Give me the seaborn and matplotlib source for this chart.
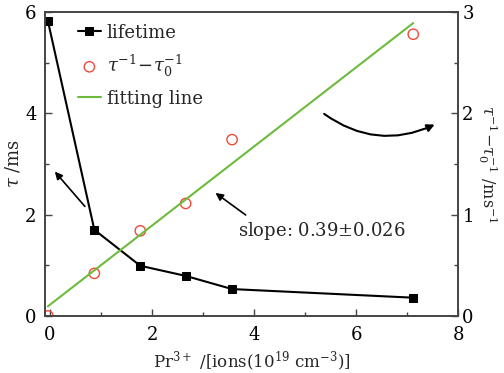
import numpy as np
import pandas as pd
import matplotlib
matplotlib.use('Agg')
import matplotlib.pyplot as plt
from matplotlib.ticker import MultipleLocator
import seaborn as sns

# Data
conc = [-0.04, 0.87, 1.77, 2.66, 3.57, 7.12]          # Pr3+ (1e19 ions/cm3)
lifetime = [5.82, 1.70, 0.99, 0.79, 0.53, 0.36]        # tau (ms)
inv_diff = [0.0, 0.42, 0.84, 1.11, 1.74, 2.78]         # tau^-1 - tau0^-1 (ms^-1)

sns.set_style('ticks')
plt.rcParams['font.family'] = ['DejaVu Serif']
plt.rcParams['mathtext.fontset'] = 'dejavuserif'

df = pd.DataFrame({'conc': conc, 'lifetime': lifetime, 'inv': inv_diff})

# linear fit of the rate data
slope, icpt = np.polyfit(df.conc, df.inv, 1)
fit = pd.DataFrame({'conc': [min(conc), max(conc)]})
fit['inv'] = icpt + slope * fit.conc

fig = plt.figure(figsize=(5.04, 3.73), dpi=100)
ax = fig.add_axes([0.089, 0.153, 0.82, 0.815])
ax2 = ax.twinx()

red = '#ee4a3a'
green = '#6dbb3c'

sns.lineplot(data=df, x='conc', y='lifetime', ax=ax, color='k', marker='s',
             markersize=5.5, markeredgecolor='k', lw=1.5, label='lifetime', legend=False)
sns.scatterplot(data=df, x='conc', y='inv', ax=ax2, s=55, facecolor='none',
                edgecolor=red, linewidth=1.0, label=r'$\tau^{-1}\!-\!\tau_0^{-1}$', legend=False)
sns.lineplot(data=fit, x='conc', y='inv', ax=ax2, color=green, lw=1.5,
             label='fitting line', legend=False)

ax.set_xlim(-0.1, 8)
ax.set_ylim(0, 6)
ax2.set_ylim(0, 3)
ax.xaxis.set_major_locator(MultipleLocator(2))
ax.xaxis.set_minor_locator(MultipleLocator(1))
ax.yaxis.set_major_locator(MultipleLocator(2))
ax.yaxis.set_minor_locator(MultipleLocator(1))
ax2.yaxis.set_major_locator(MultipleLocator(1))
ax2.yaxis.set_minor_locator(MultipleLocator(0.5))

for a in (ax, ax2):
    a.tick_params(which='both', direction='in', colors='#444444', labelcolor='k',
                  labelsize=13)
    a.tick_params(which='major', length=5, width=1)
    a.tick_params(which='minor', length=3, width=1)
    for s in a.spines.values():
        s.set_visible(True)
        s.set_color('#444444')
        s.set_linewidth(1.2)
ax.tick_params(axis='x', pad=7)
ax.tick_params(axis='y', pad=6)
ax2.tick_params(axis='y', pad=3)

ax.set_xlabel(r'Pr$^{3+}$ /[ions(10$^{19}$ cm$^{-3}$)]', fontsize=12, labelpad=4)
ax.set_ylabel(r'$\tau$ /ms', fontsize=13, labelpad=2)
ax2.set_ylabel(r'$\tau^{-1}\!-\!\tau_0^{-1}$ /ms$^{-1}$', fontsize=11.5,
               rotation=270, labelpad=19)

h1, l1 = ax.get_legend_handles_labels()
h2, l2 = ax2.get_legend_handles_labels()
ax.legend(h1 + h2, l1 + l2, loc='upper left', frameon=False, fontsize=13,
          handlelength=1.3, handletextpad=0.3, labelspacing=0.6,
          bbox_to_anchor=(0.04, 1.015))

arr = dict(arrowstyle='-|>', color='k', lw=1.2, mutation_scale=11)
ax.annotate('', xy=(0.06, 2.89), xytext=(0.72, 2.12), arrowprops=arr)
ax.annotate('', xy=(3.20, 2.46), xytext=(3.88, 1.96), arrowprops=arr)
ax.text(3.69, 1.68, r'slope: 0.39$\pm$0.026', fontsize=13, va='center', ha='left')
ax.annotate('', xy=(7.59, 3.80), xytext=(5.33, 4.02),
            arrowprops=dict(arr, connectionstyle='arc3,rad=0.3', lw=1.5))

fig.savefig('out.png', dpi=100)
